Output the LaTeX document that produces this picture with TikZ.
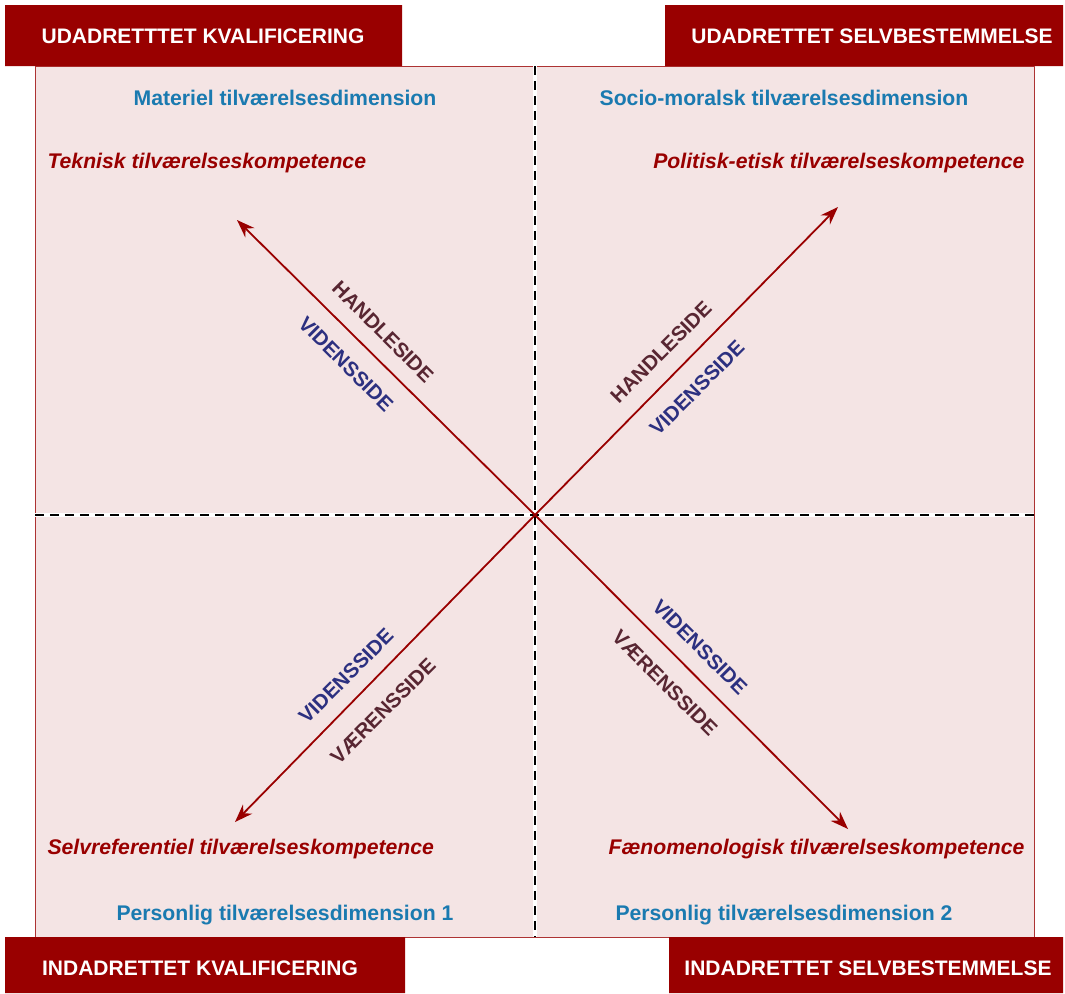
\documentclass[tikz,border=0pt]{standalone}
\usepackage{fontspec}
\setmainfont{Liberation Sans}
\usetikzlibrary{arrows.meta}
\definecolor{bannerred}{RGB}{153,0,0}
\definecolor{fieldpink}{RGB}{244,228,228}
\definecolor{dimblue}{RGB}{26,122,176}
\definecolor{sidebrown}{RGB}{88,38,50}
\definecolor{sidenavy}{RGB}{44,48,128}
\begin{document}
\begin{tikzpicture}[x=1pt,y=-1pt,line join=round,>={Stealth[length=18pt,width=13pt]},
    banner/.style={fill=bannerred,text=white,font=\fontsize{21}{24}\selectfont\bfseries},
    dimtext/.style={text=dimblue,font=\fontsize{21.2}{24}\selectfont\bfseries},
    komptext/.style={text=bannerred,font=\fontsize{21.2}{24}\selectfont\bfseries\itshape},
    axis/.style={line width=1.8pt,bannerred,->},
    sidelbl/.style={font=\fontsize{20.5}{24}\selectfont\bfseries,inner sep=0pt}]
    \useasboundingbox (0,0) rectangle (1065,993);
    % field
    \draw[fill=fieldpink,draw=bannerred!80,line width=1pt] (35,66) rectangle (1034,937);
    % quadrant lines
    \draw[white,line width=3.5pt] (535,66)--(535,937) (35,515)--(1034,515);
    \draw[black,line width=2.6pt,dash pattern=on 9pt off 6pt]
        (535,66)--(535,937)
        (35,515)--(1034,515)
        ;
    % banners
    \fill[bannerred] (5,5) rectangle (402,66) (665,5) rectangle (1063,66)
        (5,937) rectangle (405,993) (669,937) rectangle (1063,993);
    \node[banner] (ukval) at (203,36) {UDADRETTTET KVALIFICERING};
    \node[banner] (uselv) at (872,36) {UDADRETTET SELVBESTEMMELSE};
    \node[banner] (ikval) at (200,968) {INDADRETTET KVALIFICERING};
    \node[banner] (iselv) at (868,968) {INDADRETTET SELVBESTEMMELSE};
    % dimensions
    \node[dimtext] (matdim) at (285,98) {Materiel tilværelsesdimension};
    \node[dimtext] (socdim) at (784,98) {Socio-moralsk tilværelsesdimension};
    \node[dimtext] (perdimA) at (285,915) {Personlig tilværelsesdimension 1};
    \node[dimtext] (perdimB) at (784,915) {Personlig tilværelsesdimension 2};
    % kompetencer
    \node[komptext,anchor=west] (tekn) at (44,163) {Teknisk tilværelseskompetence};
    \node[komptext,anchor=east] (polit) at (1028,163) {Politisk-etisk tilværelseskompetence};
    \node[komptext,anchor=west] (selvr) at (44,849) {Selvreferentiel tilværelseskompetence};
    \node[komptext,anchor=east] (faen) at (1028,849) {Fænomenologisk tilværelseskompetence};
    % arrows
    \coordinate (o) at (535,515);
    \coordinate (nw) at (237,220);
    \coordinate (ne) at (838,207);
    \coordinate (sw) at (235,822);
    \coordinate (se) at (848,829);
    \draw[axis] (o) -- (nw);
    \draw[axis] (o) -- (ne);
    \draw[axis] (o) -- (sw);
    \draw[axis] (o) -- (se);
    % sides
    \node[sidelbl,text=sidebrown,rotate=-45] (nwhand) at (383,332) {HANDLESIDE};
    \node[sidelbl,text=sidenavy,rotate=-45] (nwvid) at (346,364) {VIDENSSIDE};
    \node[sidelbl,text=sidebrown,rotate=45] (nehand) at (661,352) {HANDLESIDE};
    \node[sidelbl,text=sidenavy,rotate=45] (nevid) at (697,388) {VIDENSSIDE};
    \node[sidelbl,text=sidenavy,rotate=45] (swvid) at (346,676) {VIDENSSIDE};
    \node[sidelbl,text=sidebrown,rotate=45] (swvaer) at (383,711) {VÆRENSSIDE};
    \node[sidelbl,text=sidenavy,rotate=-45] (sevid) at (700,647) {VIDENSSIDE};
    \node[sidelbl,text=sidebrown,rotate=-45] (sevaer) at (665,683) {VÆRENSSIDE};
\end{tikzpicture}
\end{document}
